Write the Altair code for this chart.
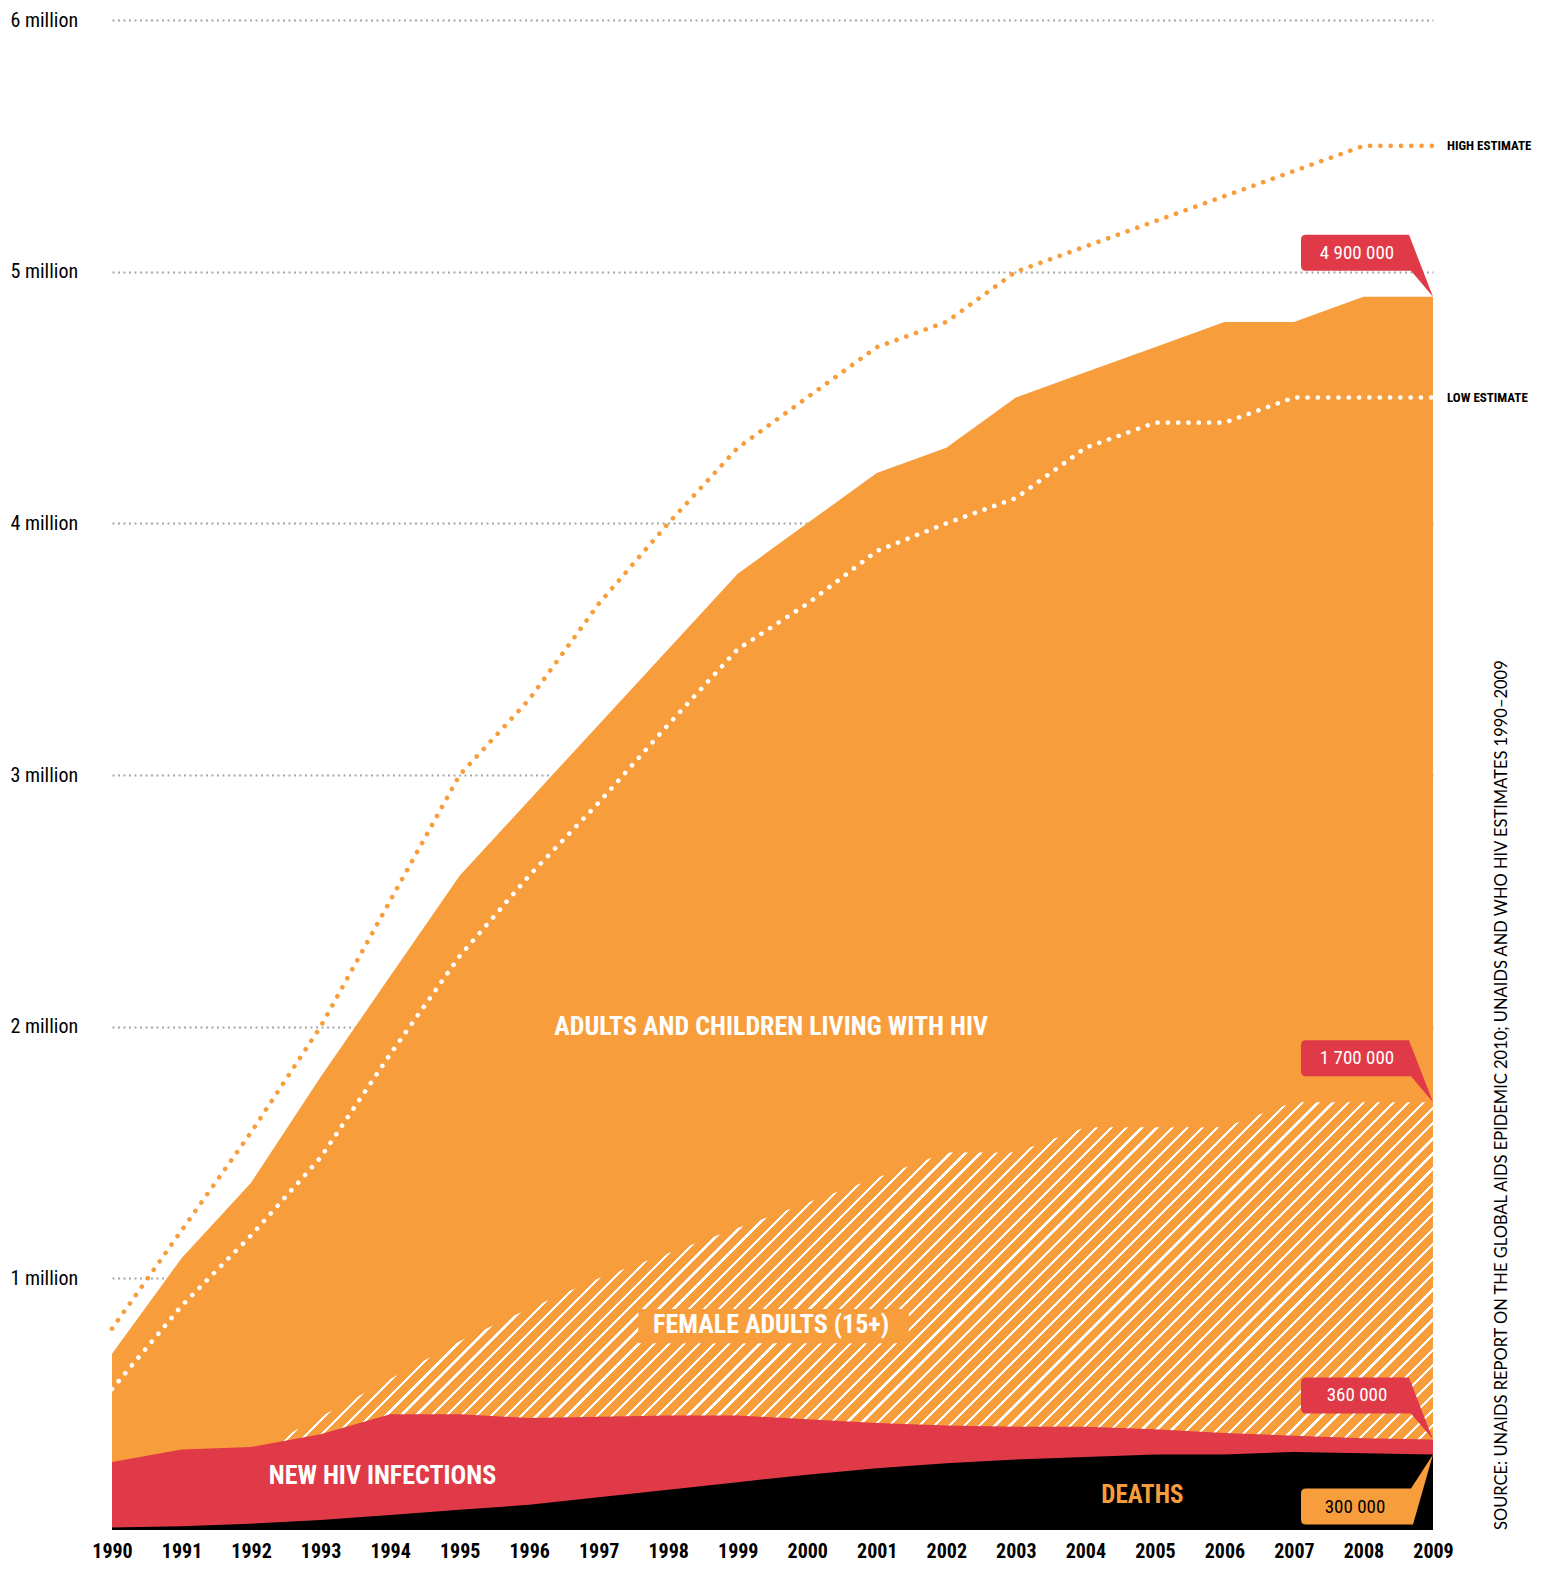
import altair as alt
import pandas as pd

# ---------------- data (millions) ----------------
years = list(range(1990, 2010))
living_total = [0.70, 1.08, 1.38, 1.80, 2.20, 2.60, 2.90, 3.20, 3.50, 3.80,
                4.00, 4.20, 4.30, 4.50, 4.60, 4.70, 4.80, 4.80, 4.90, 4.90]
female_adults = [0.20, 0.25, 0.30, 0.45, 0.60, 0.75, 0.88, 1.00, 1.10, 1.20,
                 1.30, 1.40, 1.50, 1.50, 1.60, 1.60, 1.60, 1.70, 1.70, 1.70]
new_infections = [0.27, 0.32, 0.33, 0.38, 0.46, 0.46, 0.445, 0.45, 0.455, 0.455,
                  0.44, 0.425, 0.415, 0.41, 0.41, 0.40, 0.385, 0.375, 0.365, 0.36]
deaths = [0.01, 0.015, 0.025, 0.04, 0.06, 0.08, 0.10, 0.13, 0.16, 0.19,
          0.22, 0.245, 0.265, 0.28, 0.29, 0.30, 0.30, 0.31, 0.305, 0.30]
high_estimate = [0.80, 1.19, 1.58, 2.00, 2.50, 3.00, 3.30, 3.68, 4.00, 4.30,
                 4.50, 4.70, 4.80, 5.00, 5.10, 5.20, 5.30, 5.40, 5.50, 5.50]
low_estimate = [0.56, 0.89, 1.17, 1.48, 1.89, 2.28, 2.60, 2.89, 3.20, 3.50,
                3.68, 3.89, 4.00, 4.10, 4.30, 4.40, 4.40, 4.50, 4.50, 4.50]

y_ticks = [1, 2, 3, 4, 5, 6]
red_callout_labels = ["4 900 000", "1 700 000", "360 000"]
orange_callout_label = "300 000"
source_text = "SOURCE: UNAIDS REPORT ON THE GLOBAL AIDS EPIDEMIC 2010; UNAIDS AND WHO HIV ESTIMATES 1990\u20132009"

df = pd.DataFrame({
    "year": years,
    "total": living_total,
    "female": female_adults,
    "infections": new_infections,
    "deaths": deaths,
    "high": high_estimate,
    "low": low_estimate,
})

# ---------------- style ----------------
ORANGE = "#F89D3C"
RED = "#E03A48"
BLACK = "#000000"
COND = ("Noto Sans ExtraCondensed, Noto Sans Condensed, Roboto Condensed, "
        "Liberation Sans Narrow, DejaVu Sans Condensed, sans-serif")
SANS = "Lato, Open Sans, sans-serif"

W, H = 1321, 1510
YMAX = 6

xscale = alt.Scale(domain=[1990, 2009], nice=False, zero=False)
yscale = alt.Scale(domain=[0, YMAX], nice=False)

xaxis = alt.Axis(values=years, format="d", title=None, domain=False, ticks=False,
                 grid=False, labelFont=COND, labelFontSize=20, labelFontWeight="bold",
                 labelColor="black", labelPadding=21, labelBaseline="middle",
                 labelBound=False, labelFlush=False, labelOverlap=False)
yaxis = alt.Axis(values=y_ticks, title=None, domain=False, ticks=False, grid=True,
                 gridDash=[2, 3.5], gridColor="#a6a6a6", gridWidth=2,
                 labelExpr="datum.value + ' million'", labelAlign="left",
                 labelBaseline="middle", labelPadding=102, labelFont=COND,
                 labelFontSize=20, labelColor="black")


def X(field):
    return alt.X(f"{field}:Q", scale=xscale, axis=xaxis, title=None)


def Y(field):
    return alt.Y(f"{field}:Q", scale=yscale, axis=yaxis, title=None)


def XD(v):
    return alt.X(datum=v, scale=xscale, axis=xaxis, title=None)


def YD(v):
    return alt.Y(datum=v, scale=yscale, axis=yaxis, title=None)


# hatch pattern as a striped linear gradient (bounding-box units)
bw = W
bh = H * max(female_adults) / YMAX
k = 1.2
x2 = k
y2 = k * bh / bw
span = k * (bw + bh * bh / bw) / 2 ** 0.5  # perpendicular pixel span of the gradient
period_px = 10.6
white_px = 2.3
n = int(span / period_px)
p = 1.0 / n
wf = white_px / period_px
stops = []
for i in range(n):
    a = i * p
    b = a + (1 - wf) * p
    c = (i + 1) * p
    stops += [
        {"offset": round(a, 6), "color": ORANGE},
        {"offset": round(b, 6), "color": ORANGE},
        {"offset": round(b, 6), "color": "white"},
        {"offset": round(min(c, 1.0), 6), "color": "white"},
    ]
hatch = {"gradient": "linear", "x1": 0, "y1": 0, "x2": x2, "y2": y2, "stops": stops}

base = alt.Chart(df)

total_area = base.mark_area(color=ORANGE, opacity=1).encode(x=X("year"), y=Y("total"))
female_area = base.mark_area(color=hatch, opacity=1).encode(x=X("year"), y=Y("female"))
inf_area = base.mark_area(color=RED, opacity=1).encode(x=X("year"), y=Y("infections"))
death_area = base.mark_area(color=BLACK, opacity=1).encode(x=X("year"), y=Y("deaths"))

high_line = base.mark_line(color=ORANGE, strokeWidth=4.6, strokeDash=[0.1, 10.2],
                           strokeCap="round").encode(x=X("year"), y=Y("high"))
low_line = base.mark_line(color="white", strokeWidth=4.6, strokeDash=[0.1, 10.2],
                          strokeCap="round").encode(x=X("year"), y=Y("low"))

one = pd.DataFrame({"k": [0]})
ann = alt.Chart(one)


def label(text, xv, yv, color="white", size=26, **kw):
    return ann.mark_text(text=text, font=COND, fontSize=size, fontWeight="bold",
                         color=color, align="center", baseline="middle", **kw).encode(
        x=XD(xv), y=YD(yv))


adults_label = label("ADULTS AND CHILDREN LIVING WITH HIV", 1999.48, 2.0)
female_bg = ann.mark_rect(color=ORANGE, opacity=1).encode(
    x=XD(1997.57), x2=alt.X2(datum=2001.46), y=YD(0.878), y2=alt.Y2(datum=0.742))
female_label = label("FEMALE ADULTS (15+)", 1999.48, 0.814)
inf_label = label("NEW HIV INFECTIONS", 1993.89, 0.216)
death_label = label("DEATHS", 2004.82, 0.14, color=ORANGE, size=25)

high_lab = ann.mark_text(text="HIGH ESTIMATE", font=COND, fontSize=13, fontWeight="bold",
                         color="black", align="left", baseline="middle", dx=14).encode(
    x=XD(years[-1]), y=YD(high_estimate[-1]))
low_lab = ann.mark_text(text="LOW ESTIMATE", font=COND, fontSize=13, fontWeight="bold",
                        color="black", align="left", baseline="middle", dx=14).encode(
    x=XD(years[-1]), y=YD(low_estimate[-1]))

# callouts
red_df = pd.DataFrame({
    "year": [years[-1]] * 3,
    "value": [living_total[-1], female_adults[-1], new_infections[-1]],
    "label": red_callout_labels,
})
org_df = pd.DataFrame({"year": [years[-1]], "value": [deaths[-1]], "label": [orange_callout_label]})

RED_PATH = ("M-1.27,-0.62 H-0.24 L0,0 L-0.22,-0.26 H-1.27 Q-1.32,-0.26 -1.32,-0.31 "
            "V-0.57 Q-1.32,-0.62 -1.27,-0.62 Z")
ORG_PATH = ("M-1.27,0.34 H-0.22 L0,0 L-0.20,0.70 H-1.27 Q-1.32,0.70 -1.32,0.65 "
            "V0.39 Q-1.32,0.34 -1.27,0.34 Z")

red_shape = alt.Chart(red_df).mark_point(shape=RED_PATH, size=40000, filled=True,
                                         color=RED, opacity=1, strokeWidth=0).encode(
    x=X("year"), y=Y("value"))
red_text = alt.Chart(red_df).mark_text(font=COND, fontSize=19, color="white",
                                       align="center", baseline="middle",
                                       dx=-76, dy=-44).encode(
    x=X("year"), y=Y("value"), text="label:N")
org_shape = alt.Chart(org_df).mark_point(shape=ORG_PATH, size=40000, filled=True,
                                         color=ORANGE, opacity=1, strokeWidth=0).encode(
    x=X("year"), y=Y("value"))
org_text = alt.Chart(org_df).mark_text(font=COND, fontSize=19, color="black",
                                       align="center", baseline="middle",
                                       dx=-78, dy=52).encode(
    x=X("year"), y=Y("value"), text="label:N")

source = ann.mark_text(text=source_text, font=SANS, fontSize=16.5, color="black",
                       angle=270, align="left", baseline="middle", dy=69).encode(
    x=XD(years[-1]), y=YD(0))

chart = alt.layer(
    total_area, female_area, inf_area, death_area,
    high_line, low_line,
    adults_label, female_bg, female_label, inf_label, death_label,
    high_lab, low_lab,
    red_shape, red_text, org_shape, org_text,
    source,
).properties(
    width=W, height=H,
    autosize="none",
    background="white",
    padding={"left": 104, "top": 12, "right": 102, "bottom": 33},
).configure_view(strokeWidth=0, stroke="transparent")

chart.save("out.html", embed_options={"renderer": "svg", "actions": False})
